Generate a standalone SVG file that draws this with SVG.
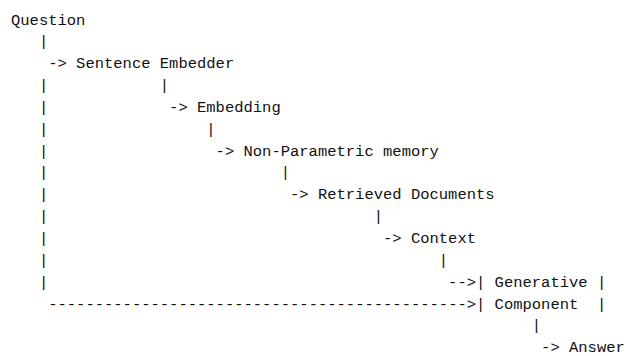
<svg xmlns="http://www.w3.org/2000/svg" width="626" height="356" viewBox="0 0 626 356">
<style>
text{font-family:"Liberation Mono","DejaVu Sans Mono",monospace;font-size:15.5px;fill:#111;white-space:pre}
</style>
<rect width="626" height="356" fill="#fff"/>
<g id="connectors">
<text x="38.9" y="46.35">|</text>
<text x="48.2" y="68.2">-&gt;</text>
<text x="38.9" y="90.05">|</text><text x="159.8" y="90.05">|</text>
<text x="38.9" y="111.9">|</text><text x="169.1" y="111.9">-&gt;</text>
<text x="38.9" y="133.75">|</text><text x="206.3" y="133.75">|</text>
<text x="38.9" y="155.6">|</text><text x="215.6" y="155.6">-&gt;</text>
<text x="38.9" y="177.45">|</text><text x="280.7" y="177.45">|</text>
<text x="38.9" y="199.3">|</text><text x="290" y="199.3">-&gt;</text>
<text x="38.9" y="221.15">|</text><text x="373.7" y="221.15">|</text>
<text x="38.9" y="243">|</text><text x="383" y="243">-&gt;</text>
<text x="38.9" y="264.85">|</text><text x="438.8" y="264.85">|</text>
<text x="38.9" y="286.7">|</text><text x="448.1" y="286.7">--&gt;</text>
<text x="48.2" y="308.55">---------------------------------------------&gt;</text>
<text x="531.8" y="330.4">|</text>
<text x="541.1" y="352.25">-&gt;</text>
</g>
<g id="question"><text x="11" y="24.5">Question</text></g>
<g id="sentence-embedder"><text x="76.1" y="68.2">Sentence Embedder</text></g>
<g id="embedding"><text x="197" y="111.9">Embedding</text></g>
<g id="non-parametric-memory"><text x="243.5" y="155.6">Non-Parametric memory</text></g>
<g id="retrieved-documents"><text x="317.9" y="199.3">Retrieved Documents</text></g>
<g id="context"><text x="410.9" y="243">Context</text></g>
<g id="generative-component">
<text x="476" y="286.7">| Generative |</text>
<text x="476" y="308.55">| Component  |</text>
</g>
<g id="answer"><text x="569" y="352.25">Answer</text></g>
</svg>
